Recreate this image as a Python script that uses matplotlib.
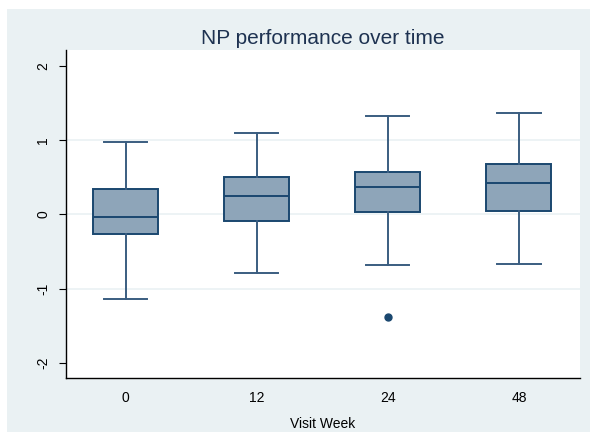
import matplotlib
matplotlib.use('agg')
import matplotlib.pyplot as plt
from matplotlib.patches import Rectangle

plt.rcParams['font.family'] = ['Liberation Sans', 'DejaVu Sans']

# box summary
weeks = ['0', '12', '24', '48']
q1 = [-0.265, -0.086, 0.027, 0.048]
medians = [-0.032, 0.25, 0.367, 0.425]
q3 = [0.336, 0.505, 0.573, 0.672]
whislo = [-1.14, -0.79, -0.677, -0.664]
whishi = [0.976, 1.097, 1.325, 1.36]
outliers = [[], [], [-1.376], []]

bg = '#eaf1f3'
navy = '#1a476f'

fig = plt.figure(figsize=(5.9, 4.32), dpi=100)
fig.patch.set_facecolor('white')
fig.patches.append(Rectangle((7 / 590, 0), 1, 1 - 9 / 432, transform=fig.transFigure,
                             facecolor=bg, edgecolor='none', zorder=-10))

ax = fig.add_axes([65.7 / 590, 54 / 432, (580 - 65.7) / 590, (378 - 50) / 432])
ax.set_facecolor('white')

stats = []
for i, w in enumerate(weeks):
    stats.append(dict(label=w, q1=q1[i], med=medians[i], q3=q3[i],
                      whislo=whislo[i], whishi=whishi[i], fliers=outliers[i]))

ax.bxp(stats, positions=range(1, len(weeks) + 1), widths=0.496, patch_artist=True,
       showfliers=True,
       boxprops=dict(facecolor='#8ea5b9', edgecolor=navy, linewidth=1.4),
       medianprops=dict(color=navy, linewidth=1.4),
       whiskerprops=dict(color='#3a5d80', linewidth=1.4),
       capprops=dict(color='#3a5d80', linewidth=1.4),
       capwidths=0.33,
       flierprops=dict(marker='o', markersize=5, markerfacecolor=navy,
                       markeredgecolor=navy))

for y in [-1, 0, 1]:
    ax.axhline(y, color=bg, linewidth=1.2, zorder=0)

ax.set_xlim(0.542, 4.466)
ax.set_ylim(-2.2, 2.21)
ax.set_yticks([-2, -1, 0, 1, 2])
ax.set_yticklabels(['-2', '-1', '0', '1', '2'], rotation=90, va='center')
ax.tick_params(axis='y', length=5, width=0.8, labelsize=10, pad=6)
ax.tick_params(axis='x', length=0, labelsize=10, pad=9)

for s in ['top', 'right']:
    ax.spines[s].set_visible(False)
for s in ['left', 'bottom']:
    ax.spines[s].set_color('black')
    ax.spines[s].set_linewidth(1.0)

ax.set_xlabel('Visit Week', fontsize=10, labelpad=9)
ax.set_title('NP performance over time', fontsize=15, color='#1e3251', pad=4)

fig.savefig('out.png', dpi=100, facecolor=fig.get_facecolor())
